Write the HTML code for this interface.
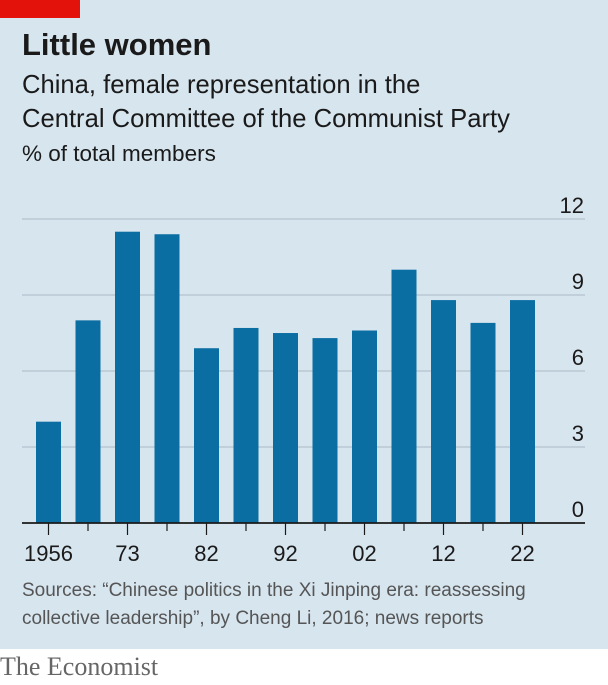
<!DOCTYPE html>
<html><head><meta charset="utf-8"><style>
body{margin:0;width:608px;height:685px;overflow:hidden;background:#fff;font-family:"Liberation Sans",sans-serif}
#bg{position:absolute;left:0;top:0;width:608px;height:649px;background:#d7e5ef}
.t{position:absolute;white-space:nowrap;color:#1a1a1a}
</style></head><body>
<div id="bg"></div>
<div style="position:absolute;left:0;top:0;width:80px;height:18px;background:#e3120b"></div>
<div class="t" style="left:22px;top:27px;font-size:31px;font-weight:bold">Little women</div>
<div class="t" style="left:22px;top:68px;font-size:25.6px;line-height:34px">China, female representation in the<br>Central Committee of the Communist Party</div>
<div class="t" style="left:22px;top:141px;font-size:22.5px">% of total members</div>
<svg id="chart" width="608" height="600" style="position:absolute;left:0;top:0"></svg>
<div class="t" style="left:22px;top:577px;font-size:19px;line-height:28px;color:#555">Sources: “Chinese politics in the Xi Jinping era: reassessing<br>collective leadership”, by Cheng Li, 2016; news reports</div>
<div class="t" style="left:0;top:652px;font-family:'Liberation Serif',serif;font-size:26px;color:#666">The Economist</div>
<script>
const categories=["1956","1969","1973","1977","1982","1987","1992","1997","2002","2007","2012","2017","2022"];
const values=[4.0,8.0,11.5,11.4,6.9,7.7,7.5,7.3,7.6,10.0,8.8,7.9,8.8];
const tickValues=[0,3,6,9,12];
const xLabels=["1956","","73","","82","","92","","02","","12","","22"];
const svg=document.getElementById('chart');const NS="http://www.w3.org/2000/svg";
const y=v=>523-v*25.33;const x=i=>48.5+i*39.5;
function mk(t,a){const e=document.createElementNS(NS,t);for(const k in a)e.setAttribute(k,a[k]);svg.appendChild(e);return e;}
tickValues.forEach(v=>{
 if(v>0){const g=mk('line',{x1:22,x2:585,y1:y(v),y2:y(v),stroke:'#a9b9c4','stroke-width':1});
 
 }
 const t=mk('text',{x:584,y:y(v)-6,'text-anchor':'end','font-size':22,fill:'#1a1a1a','font-family':'Liberation Sans, sans-serif'});t.textContent=v;
 
 
});
values.forEach((v,i)=>{
 const r=mk('rect',{x:x(i)-12.5,y:y(v),width:25,height:y(0)-y(v),fill:'#0b6ea3'});
 
 
 const tk=mk('line',{x1:x(i),x2:x(i),y1:523,y2:xLabels[i]?535:531,stroke:'#1a1a1a','stroke-width':1.2});
 
 
 if(xLabels[i]){const t=mk('text',{x:x(i),y:561,'text-anchor':'middle','font-size':22,fill:'#1a1a1a','font-family':'Liberation Sans, sans-serif'});t.textContent=xLabels[i];
 
 }
});
const b=mk('line',{x1:22,x2:585,y1:523,y2:523,stroke:'#1a1a1a','stroke-width':1.8});


</script>
</body></html>
